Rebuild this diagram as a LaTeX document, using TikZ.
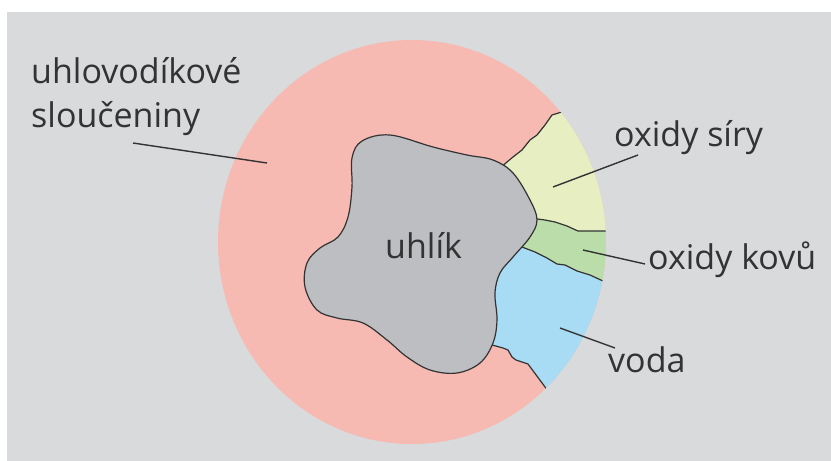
\documentclass[tikz,border=0pt]{standalone}
\usepackage{fontspec}
\setmainfont{Open Sans}
\definecolor{sootbg}{HTML}{D9DADC}
\definecolor{sootpink}{HTML}{F7BAB3}
\definecolor{sootcore}{HTML}{BDBEC2}
\definecolor{sootyellow}{HTML}{E6EEC2}
\definecolor{sootgreen}{HTML}{BADDAA}
\definecolor{sootblue}{HTML}{A8DCF5}
\definecolor{sootink}{HTML}{333333}
\tikzset{
  lbl/.style={font=\fontsize{34}{44}\selectfont,text=sootink,inner sep=0pt,anchor=base west,align=left},
  edge/.style={draw=sootink,line width=1.2pt,line join=round},
  leader/.style={draw=sootink,line width=1.4pt},
}

\begin{document}
\begin{tikzpicture}[x=1pt,y=-1pt]
  % frame
  \fill[white] (0,0) rectangle (831,461);
  \fill[sootbg] (7,12) rectangle (831,461);
  \useasboundingbox (0,0) rectangle (831,461);

  % particle
  \fill[sootpink] (412,242) ellipse [x radius=194,y radius=202];
  \begin{scope}
    \clip (412,242) ellipse [x radius=194,y radius=202];
    \fill[sootyellow] (470,180) -- (500,168) -- (507,162) -- (513,157) -- (522,150) -- (530,140)
      -- (537,135) -- (545,125) -- (552,115) -- (562,112) -- (640,90) -- (640,231) -- (610,231)
      -- (578,231) -- (567,226) -- (555,222) -- (545,220) -- (530,218) -- (500,215) -- cycle;
    \fill[sootgreen] (500,215) -- (530,218) -- (545,220) -- (555,222) -- (567,226) -- (578,231)
      -- (640,231) -- (640,283) -- (610,283) -- (603,281) -- (590,275) -- (577,271) -- (565,265)
      -- (557,264) -- (547,258) -- (535,252) -- (522,247) -- (500,245) -- cycle;
    \fill[sootblue] (500,245) -- (522,247) -- (535,252) -- (547,258) -- (557,264) -- (565,265)
      -- (577,271) -- (590,275) -- (603,281) -- (640,283) -- (640,420) -- (555,400) -- (548,391)
      -- (528,364) -- (516,360) -- (512,357) -- (508,350) -- (503,348) -- (492,345) -- (470,300) -- cycle;
    % borders between the phases
    \draw[edge] (565,111) -- (552,115) -- (545,125) -- (537,135) -- (530,140) -- (522,150)
      -- (513,157) -- (507,162) -- (500,168);
    \draw[edge] (530,218) -- (545,220) -- (555,222) -- (567,226) -- (578,231) -- (612,231);
    \draw[edge] (522,247) -- (535,252) -- (547,258) -- (557,264) -- (565,265) -- (577,271)
      -- (590,275) -- (603,281) -- (612,284);
    \draw[edge] (492,345) -- (503,348) -- (508,350) -- (512,357) -- (516,360) -- (528,364)
      -- (548,391) -- (556,402);
  \end{scope}

  % carbon core
  \draw[edge,fill=sootcore] plot[smooth cycle,tension=0.6] coordinates {
    (352,158) (362,141) (390,135) (433,147) (467,155) (493,160) (513,173) (530,200)
    (537,220) (530,237) (513,257) (500,273) (495,293) (497,320) (493,343) (480,363)
    (457,373) (430,370) (407,357) (387,340) (363,323) (337,318) (317,310) (305,287)
    (307,263) (320,248) (338,237) (348,217) (352,187)};

  % labels
  \node[lbl] (core) at (385,258) {uhlík};
  \node[lbl] (hc) at (31,127) {uhlovodíkové\\sloučeniny};
  \node[lbl] (sox) at (614,146) {oxidy síry};
  \node[lbl] (mox) at (648,269) {oxidy kovů};
  \node[lbl] (water) at (608,372) {voda};

  \coordinate (hcTail) at (133,143);
  \coordinate (hcIn) at (267,163);
  \coordinate (soxTail) at (638,155);
  \coordinate (soxIn) at (553,187);
  \coordinate (moxTail) at (645,264);
  \coordinate (moxIn) at (583,250);
  \coordinate (waterTail) at (615,348);
  \coordinate (waterIn) at (560,328);

  \draw[leader] (hcTail) -- (hcIn);
  \draw[leader] (soxTail) -- (soxIn);
  \draw[leader] (moxTail) -- (moxIn);
  \draw[leader] (waterTail) -- (waterIn);
\end{tikzpicture}
\end{document}
